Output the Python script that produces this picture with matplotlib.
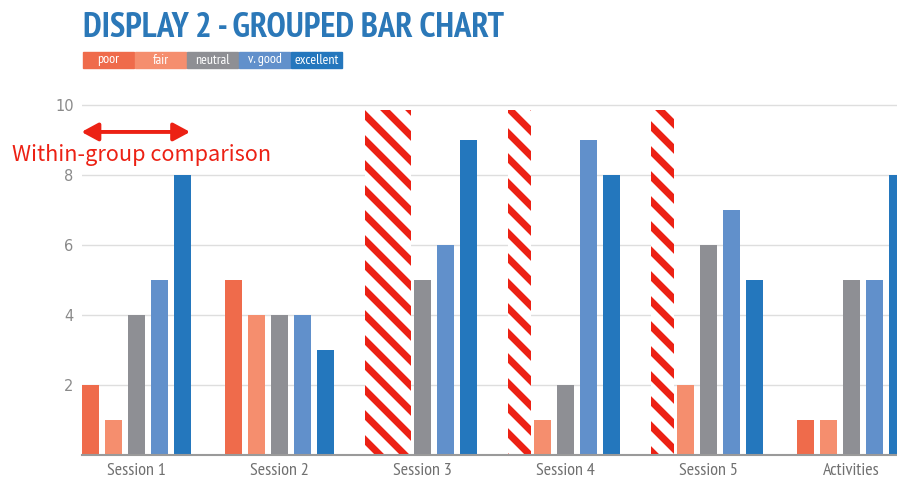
"""Grouped bar chart with hatched gaps for missing ratings. Writes out.png."""
import numpy as np
import matplotlib
matplotlib.use("Agg")
import matplotlib.pyplot as plt
from matplotlib.patches import Rectangle
from matplotlib.backend_bases import GraphicsContextBase

groups = ["Session 1", "Session 2", "Session 3", "Session 4", "Session 5", "Activities"]
ratings = ["poor", "fair", "neutral", "v. good", "excellent"]
poor = [2, 5, np.nan, np.nan, np.nan, 1]
fair = [1, 4, np.nan, 1, 2, 1]
neutral = [4, 4, 5, 2, 6, 5]
vgood = [5, 4, 6, 9, 7, 5]
excellent = [8, 3, 9, 8, 5, 8]
series = [poor, fair, neutral, vgood, excellent]

COLORS = ["#ef6b4b", "#f58e6e", "#8e8f94", "#6190cb", "#2477bd"]
TITLE_BLUE = "#2b78b8"
RED = "#ec2114"
NARROW = ["PT Sans Narrow", "DejaVu Sans"]

# slightly denser stripes than matplotlib's default hatch density (even -> tiles cleanly)
_hatch_path = GraphicsContextBase.get_hatch_path
GraphicsContextBase.get_hatch_path = lambda self, density=8.0: _hatch_path(self, density)

plt.rcParams.update({"hatch.linewidth": 5.0, "font.family": NARROW})

fig = plt.figure(figsize=(8.97, 4.83), dpi=100)
ax = fig.add_axes([82 / 897, 28 / 483, 1 - 82 / 897, 10.2 * 35 / 483])

x = np.arange(len(groups))
pitch, w = 0.161, 0.119
for k, (vals, col) in enumerate(zip(series, COLORS)):
    vals = np.array(vals, dtype=float)
    pos = x + (k - 2) * pitch
    ok = ~np.isnan(vals)
    ax.bar(pos[ok], vals[ok], width=w, color=col, zorder=3)
    # missing ratings get a red/white striped block
    if (~ok).any():
        ax.bar(pos[~ok], 9.85, width=pitch, facecolor="white", edgecolor=RED,
               hatch="\\", linewidth=0, zorder=2)

ax.set_xlim(-0.381, 5.318)
ax.set_ylim(0, 10.2)
ax.set_yticks([2, 4, 6, 8, 10])
ax.yaxis.grid(True, color="#dedede", lw=1, zorder=0)
ax.tick_params(axis="y", length=0, pad=6, labelsize=10.5, labelcolor="#8a8a8a")
ax.set_yticklabels(["2", "4", "6", "8", "10"], family=["DejaVu Sans"])
ax.set_xticks(x)
ax.set_xticklabels(groups, fontsize=13, color="#707070")
ax.tick_params(axis="x", length=0, pad=6)
for s in ("top", "right", "left"):
    ax.spines[s].set_visible(False)
ax.spines["bottom"].set_color("#9a9a9a")
ax.spines["bottom"].set_linewidth(1.5)
ax.spines["bottom"].set_zorder(4)

# title and colour key
fig.text(83 / 897, 1 - 37 / 483, "DISPLAY 2 - GROUPED BAR CHART", color=TITLE_BLUE,
         fontsize=25, weight="bold", ha="left", va="baseline")
bx, bw, gap = 83, 50.5, 1.6
for lab, col in zip(ratings, COLORS):
    fig.add_artist(Rectangle((bx / 897, 1 - 68 / 483), bw / 897, 16 / 483,
                             transform=fig.transFigure, color=col))
    fig.text((bx + bw / 2) / 897, 1 - 60 / 483, lab, color="white", fontsize=10,
             ha="center", va="center")
    bx += bw + gap

# annotation
ax.annotate("", xy=(-0.385, 9.23), xytext=(0.375, 9.23),
            arrowprops=dict(arrowstyle="<|-|>,head_length=0.5,head_width=0.27",
                            color=RED, lw=2.8, mutation_scale=20, shrinkA=0, shrinkB=0),
            annotation_clip=False, zorder=5)
fig.text(12 / 897, 1 - 161 / 483, "Within-group comparison", color=RED,
         fontsize=15.6, family=["Noto Sans CJK JP", "DejaVu Sans"], ha="left", va="baseline")

fig.savefig("out.png", dpi=100)
